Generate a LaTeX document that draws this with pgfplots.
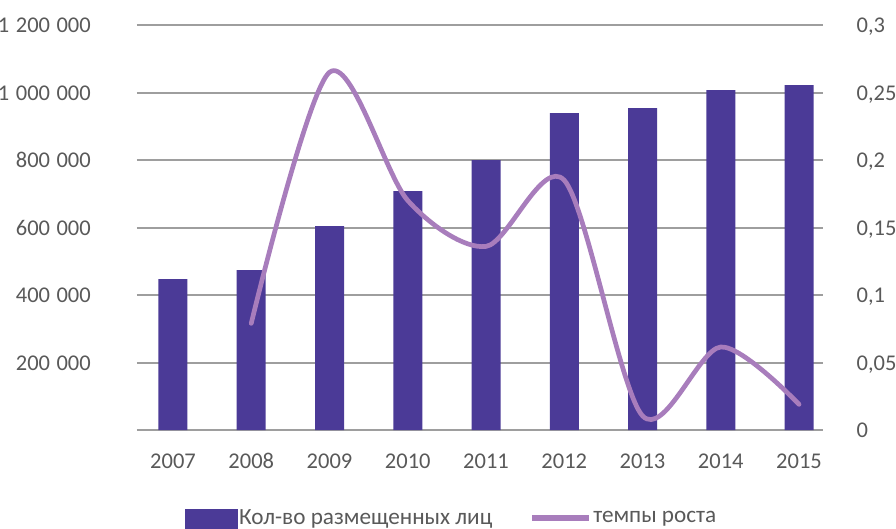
\documentclass[border=0pt]{standalone}
\usepackage{fontspec}
\setmainfont{Carlito}
\usepackage{pgfplots}
\pgfplotsset{compat=1.18}
\definecolor{barc}{HTML}{4B3A97}
\definecolor{linec}{HTML}{A87DBC}
\definecolor{gridc}{HTML}{9E9E9E}
\definecolor{txt}{HTML}{595959}
\begin{document}
\begin{tikzpicture}
\begin{axis}[
  name=main,
  scale only axis, width=685.5pt, height=405pt,
  xmin=-0.46, xmax=8.3, ymin=0, ymax=1200000,
  axis line style={draw=none},
  major tick length=0pt,
  scaled y ticks=false,
  xtick={0,1,2,3,4,5,6,7,8},
  xticklabels={2007,2008,2009,2010,2011,2012,2013,2014,2015},
  ytick={0,200000,400000,600000,800000,1000000,1200000},
  yticklabels={,200\hspace{6.5pt}000,400\hspace{6.5pt}000,600\hspace{6.5pt}000,800\hspace{6.5pt}000,1\hspace{6.5pt}000\hspace{6.5pt}000,1\hspace{6.5pt}200\hspace{6.5pt}000},
  ymajorgrids,
  grid style={gridc, line width=2pt},
  ticklabel style={font=\fontsize{22.5}{26}\selectfont, text=txt, text height=16pt, text depth=0pt},
  yticklabel style={anchor=east, inner sep=0pt, xshift=-46pt, yshift=0.5pt},
  xticklabel style={anchor=north, inner sep=0pt, yshift=-22pt},
  legend columns=2,
  legend style={draw=none, fill=none, at={(0.07,-0.22)}, anchor=west, inner sep=0pt,
    font=\fontsize{23.2}{26}\selectfont, text=txt,
    /tikz/every even column/.append style={column sep=36pt},
    nodes={inner sep=1pt, anchor=west}},
]
\addplot[ybar, bar width=29pt, fill=barc, draw=none,
  legend image code/.code={\fill[barc] (0pt,-12pt) rectangle (53pt,9pt);}]
  coordinates {(0,447000) (1,474000) (2,604000) (3,708000) (4,800000) (5,939000) (6,954000) (7,1007000) (8,1022000)};
\addlegendentry{Кол-во размещенных лиц}
\addlegendimage{legend image code/.code={\draw[linec, line width=6pt] (0pt,0pt) -- (57pt,0pt);}}
\addlegendentry{темпы роста}
\end{axis}
\begin{axis}[
  scale only axis, width=685.5pt, height=405pt,
  xmin=-0.46, xmax=8.3, ymin=0, ymax=0.3,
  axis y line*=right, hide x axis,
  axis line style={draw=none},
  major tick length=0pt,
  ytick={0,0.05,0.1,0.15,0.2,0.25,0.3},
  yticklabel={\pgfmathprintnumber[fixed,precision=2,use comma,assume math mode=true]{\tick}},
  ticklabel style={font=\fontsize{22.5}{26}\selectfont, text=txt, text height=16pt, text depth=0pt},
  yticklabel style={anchor=west, inner sep=0pt, xshift=34pt, yshift=0.5pt},
]
\addplot[smooth, linec, line width=4.7pt, line cap=round]
  coordinates {(1,0.079) (2,0.265) (3,0.170) (4,0.136) (5,0.185) (6,0.0105) (7,0.0615) (8,0.019)};
\end{axis}
\pgfresetboundingbox
\path[use as bounding box] ([xshift=-137pt,yshift=-98pt]main.south west) rectangle ([xshift=759pt,yshift=25pt]main.north west);
\end{tikzpicture}
\end{document}
